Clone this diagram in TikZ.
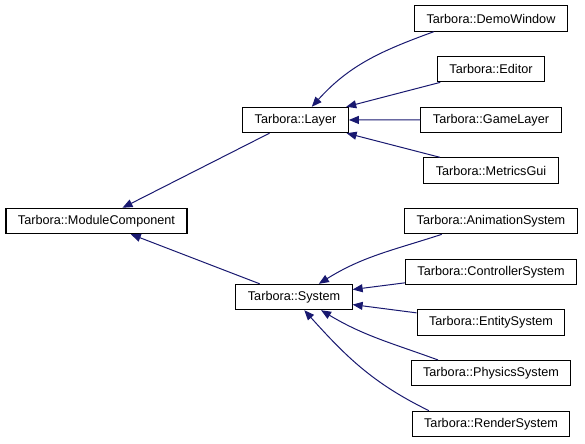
\documentclass[tikz,border=0pt]{standalone}
\usepackage{fontspec}
\setmainfont{Liberation Sans}
\usepackage{tikz}
\usetikzlibrary{arrows.meta, positioning}
\definecolor{edgeblue}{RGB}{25, 25, 112}

\begin{document}
\begin{tikzpicture}[x=0.75pt, y=0.75pt,
    cls/.style={rectangle, draw=black, line width=0.8pt, minimum height=19pt, inner xsep=9pt, font=\fontsize{9.5}{11}\selectfont},
    arrow/.style={-{Triangle[length=7.5pt, width=6pt]}, line width=0.75pt, edgeblue}
]
\useasboundingbox (0,0) rectangle (585,443);

\node (MODULE) [cls] at (96.5,222) {Tarbora::ModuleComponent};
\node (LAYER)  [cls] at (295.5,323) {Tarbora::Layer};
\node (SYSTEM) [cls] at (294,146) {Tarbora::System};

\node (DEMO)       [cls] at (491,424.5) {Tarbora::DemoWindow};
\node (EDITOR)     [cls, below=18.2pt of DEMO] {Tarbora::Editor};
\node (GAMELAYER)  [cls, below=18.2pt of EDITOR] {Tarbora::GameLayer};
\node (METRICS)    [cls, below=18.2pt of GAMELAYER] {Tarbora::MetricsGui};
\node (ANIM)       [cls, below=18.2pt of METRICS] {Tarbora::AnimationSystem};
\node (CONTROLLER) [cls, below=18.2pt of ANIM] {Tarbora::ControllerSystem};
\node (ENTITY)     [cls, below=18.2pt of CONTROLLER] {Tarbora::EntitySystem};
\node (PHYSICS)    [cls, below=18.2pt of ENTITY] {Tarbora::PhysicsSystem};
\node (RENDER)     [cls, below=18.2pt of PHYSICS] {Tarbora::RenderSystem};

\draw [arrow] (LAYER) -- (MODULE);
\draw [arrow] (SYSTEM) -- (MODULE);
\draw [arrow] (DEMO.193) to[out=200, in=48] (LAYER.39);
\draw [arrow] (EDITOR) -- (LAYER);
\draw [arrow] (GAMELAYER) -- (LAYER);
\draw [arrow] (METRICS) -- (LAYER);
\draw [arrow] (ANIM.195) to[out=198, in=32] (SYSTEM.28);
\draw [arrow] (CONTROLLER) -- (SYSTEM);
\draw [arrow] (ENTITY) -- (SYSTEM);
\draw [arrow] (PHYSICS.166) to[out=160, in=-31] (SYSTEM.-26);
\draw [arrow] (RENDER.168) to[out=154, in=-48] (SYSTEM.-52);

\end{tikzpicture}
\end{document}
